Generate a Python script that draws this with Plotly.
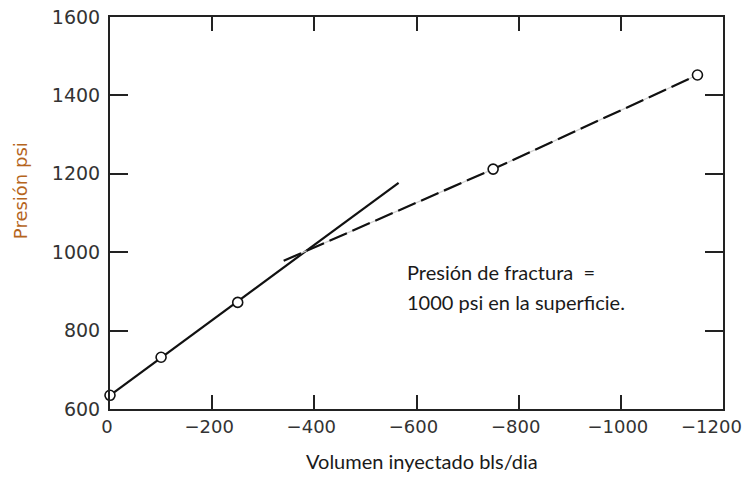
import plotly.graph_objects as go

# puntos medidos (volumen inyectado bls/dia, presión psi)
vol_puntos = [0, -100, -250, -750, -1150]
pres_puntos = [635, 732, 872, 1212, 1452]

# recta de la primera pendiente (antes de la fractura)
vol_recta1 = [0, -565]
pres_recta1 = [635, 1177]

# recta de la segunda pendiente (después de la fractura)
vol_recta2 = [-340, -750, -1150]
pres_recta2 = [978, 1212, 1452]

x_ticks = [0, -200, -400, -600, -800, -1000, -1200]
x_tick_text = ['0', '\u2212200', '\u2212400', '\u2212600', '\u2212800', '\u22121000',
               '\u22121200\u00a0\u00a0\u00a0']
y_ticks = [600, 800, 1000, 1200, 1400, 1600]

fig = go.Figure()

fig.add_trace(go.Scatter(x=vol_recta1, y=pres_recta1, mode='lines',
                         line=dict(color='#111', width=2.2),
                         hoverinfo='skip'))

# linea gris clara debajo de los guiones
fig.add_trace(go.Scatter(x=vol_recta2, y=pres_recta2, mode='lines',
                         line=dict(color='#cfcfcf', width=1.2),
                         hoverinfo='skip'))
fig.add_trace(go.Scatter(x=vol_recta2, y=pres_recta2, mode='lines',
                         line=dict(color='#111', width=2.2, dash='19px,6px'),
                         hoverinfo='skip'))

fig.add_trace(go.Scatter(x=vol_puntos, y=pres_puntos, mode='markers',
                         marker=dict(symbol='circle', size=10, color='white',
                                     line=dict(color='#111', width=1.6)),
                         cliponaxis=False,
                         hoverinfo='skip'))

nota = dict(family='Lato', size=20, color='#1a1a1a')
fig.add_annotation(x=-577, y=950, xref='x', yref='y',
                   text='Presión de fractura \u00a0=',
                   showarrow=False, xanchor='left', yanchor='middle', font=nota)
fig.add_annotation(x=-577, y=873, xref='x', yref='y',
                   text='1000 psi en la superficie.',
                   showarrow=False, xanchor='left', yanchor='middle', font=nota)

# titulos de ejes como anotaciones para fijar su posicion
fig.add_annotation(x=0.509, y=-0.133, xref='paper', yref='paper',
                   text='Volumen inyectado bls/dia', showarrow=False,
                   xanchor='center', yanchor='middle',
                   font=dict(family='Lato', size=20, color='#1a1a1a'))
fig.add_annotation(x=-0.147, y=0.558, xref='paper', yref='paper',
                   text='Presión psi', showarrow=False, textangle=-90,
                   xanchor='center', yanchor='middle',
                   font=dict(family='DejaVu Sans', size=18, color='#b5651d'))

# la pagina deja 8px de margen en el body: se descuentan aqui
fig.update_layout(
    width=736, height=465,
    plot_bgcolor='white', paper_bgcolor='white',
    showlegend=False,
    margin=dict(l=102, r=21, t=9, b=64),
    xaxis=dict(range=[0, -1200], tickvals=x_ticks, ticktext=x_tick_text,
               automargin=False,
               ticks='inside', ticklen=14, tickwidth=2, tickcolor='#222',
               showline=True, linecolor='#222', linewidth=2, mirror='ticks',
               showgrid=False, zeroline=False,
               ticklabeloverflow='allow', ticklabelshift=3,
               tickfont=dict(family='DejaVu Sans', size=18, color='#333')),
    yaxis=dict(range=[600, 1600], tickvals=y_ticks, automargin=False,
               ticks='inside', ticklen=18, tickwidth=2, tickcolor='#222',
               showline=True, linecolor='#222', linewidth=2, mirror='ticks',
               showgrid=False, zeroline=False, ticklabeloverflow='allow',
               ticklabelstandoff=4,
               tickfont=dict(family='DejaVu Sans', size=19, color='#333')),
)

fig.write_html('out.html')
